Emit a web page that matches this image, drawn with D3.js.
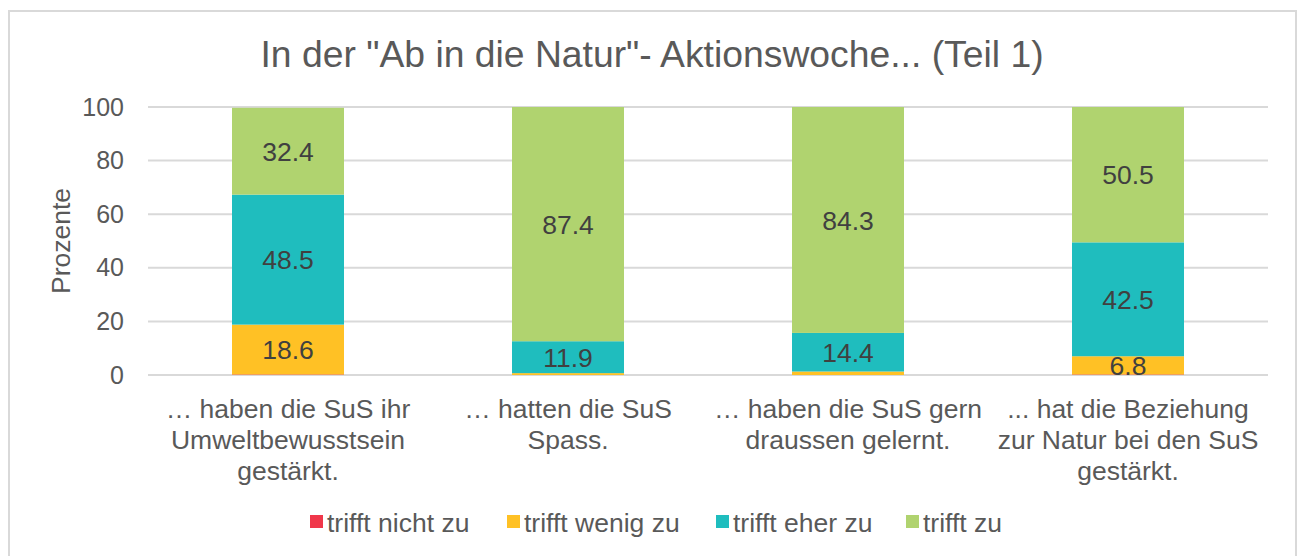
<!DOCTYPE html>
<html>
<head>
<meta charset="utf-8">
<script src="https://cdn.jsdelivr.net/npm/d3@7"></script>
<style>
  body { margin: 0; background: #fff; }
  text { font-family: "Liberation Sans", Arial, sans-serif; }
</style>
</head>
<body>
<div id="chart"></div>
<script>
// chart data
var categories = [
  ["\u2026 haben die SuS ihr", "Umweltbewusstsein", "gestärkt."],
  ["\u2026 hatten die SuS", "Spass."],
  ["\u2026 haben die SuS gern", "draussen gelernt."],
  ["... hat die Beziehung", "zur Natur bei den SuS", "gestärkt."]
];
var seriesNames = ["trifft nicht zu", "trifft wenig zu", "trifft eher zu", "trifft zu"];
var nichtZu = [0.2, 0, 0, 0.2];
var wenigZu = [18.6, 0.7, 1.3, 6.8];
var eherZu = [48.5, 11.9, 14.4, 42.5];
var trifftZu = [32.4, 87.4, 84.3, 50.5];
var yTicks = [0, 20, 40, 60, 80, 100];
var colors = ["#f0374a", "#ffc125", "#1fbdbe", "#b0d36f"];

var width = 1300, height = 556;
var margin = { top: 107, right: 32, bottom: 181, left: 148 };
var plotW = width - margin.left - margin.right,
    plotH = height - margin.top - margin.bottom;

var svg = d3.select("#chart").append("svg")
  .attr("width", width)
  .attr("height", height);

// outer frame
svg.append("rect")
  .attr("x", 9).attr("y", 11)
  .attr("width", 1287).attr("height", 570)
  .attr("fill", "none")
  .attr("stroke", "#d9d9d9")
  .attr("stroke-width", 2);

// title
svg.append("text")
  .attr("x", 652).attr("y", 67)
  .attr("text-anchor", "middle")
  .attr("fill", "#595959")
  .style("font-size", "37.3px")
  .text('In der "Ab in die Natur"- Aktionswoche... (Teil 1)');

var g = svg.append("g")
  .attr("transform", "translate(" + margin.left + "," + margin.top + ")");

var x = d3.scaleBand()
  .domain(d3.range(categories.length))
  .range([0, plotW])
  .paddingInner(0.6)
  .paddingOuter(0.3);

var y = d3.scaleLinear().domain([0, 100]).range([plotH, 0]);

// gridlines
g.selectAll(".grid")
  .data(yTicks)
  .enter().append("line")
  .attr("x1", 0).attr("x2", plotW)
  .attr("y1", function(d) { return y(d); })
  .attr("y2", function(d) { return y(d); })
  .attr("stroke", "#d9d9d9")
  .attr("stroke-width", 2);

// y axis labels
var yAxis = g.append("g")
  .call(d3.axisLeft(y).tickValues(yTicks).tickSize(0).tickPadding(24));
yAxis.select(".domain").remove();
yAxis.selectAll("text")
  .attr("fill", "#595959")
  .style("font-size", "25px")
  .style("font-family", "'Liberation Sans', Arial, sans-serif");

// y axis title
svg.append("text")
  .attr("transform", "translate(70,241) rotate(-90)")
  .attr("text-anchor", "middle")
  .attr("fill", "#595959")
  .style("font-size", "26.5px")
  .text("Prozente");

// stack
var rows = categories.map(function(c, i) {
  return { i: i, s0: nichtZu[i], s1: wenigZu[i], s2: eherZu[i], s3: trifftZu[i] };
});
var stack = d3.stack().keys(["s0", "s1", "s2", "s3"]);
var layers = stack(rows);

var layer = g.selectAll(".layer")
  .data(layers)
  .enter().append("g")
  .attr("fill", function(d, k) { return colors[k]; });

layer.selectAll("rect")
  .data(function(d) { return d; })
  .enter().append("rect")
  .attr("x", function(d) { return x(d.data.i); })
  .attr("width", x.bandwidth())
  .attr("y", function(d) { return y(d[1]); })
  .attr("height", function(d) { return y(d[0]) - y(d[1]); });

// data labels
layer.selectAll("text")
  .data(function(d) { return d.filter(function(p) { return p[1] - p[0] >= 5; }); })
  .enter().append("text")
  .attr("x", function(d) { return x(d.data.i) + x.bandwidth() / 2; })
  .attr("y", function(d) { return y((d[0] + d[1]) / 2); })
  .attr("dy", "0.36em")
  .attr("text-anchor", "middle")
  .attr("fill", "#404040")
  .style("font-size", "26.5px")
  .text(function(d) { return (d[1] - d[0]).toFixed(1); });

// category labels
var cat = g.selectAll(".cat")
  .data(categories)
  .enter().append("text")
  .attr("text-anchor", "middle")
  .attr("fill", "#595959")
  .style("font-size", "26.5px")
  .attr("transform", function(d, i) {
    return "translate(" + (x(i) + x.bandwidth() / 2) + "," + (plotH + 43) + ")";
  });
cat.selectAll("tspan")
  .data(function(d) { return d; })
  .enter().append("tspan")
  .attr("x", 0)
  .attr("y", function(d, k) { return k * 31; })
  .text(function(d) { return d; });

// legend
var legendX = [310, 507, 716, 906];
var legend = svg.selectAll(".legend")
  .data(seriesNames)
  .enter().append("g")
  .attr("transform", function(d, k) { return "translate(" + legendX[k] + ",515)"; });
legend.append("rect")
  .attr("width", 13).attr("height", 13)
  .attr("fill", function(d, k) { return colors[k]; });
legend.append("text")
  .attr("x", 17).attr("y", 7)
  .attr("dy", "0.36em")
  .attr("fill", "#595959")
  .style("font-size", "26.5px")
  .text(function(d) { return d; });
</script>
</body>
</html>
